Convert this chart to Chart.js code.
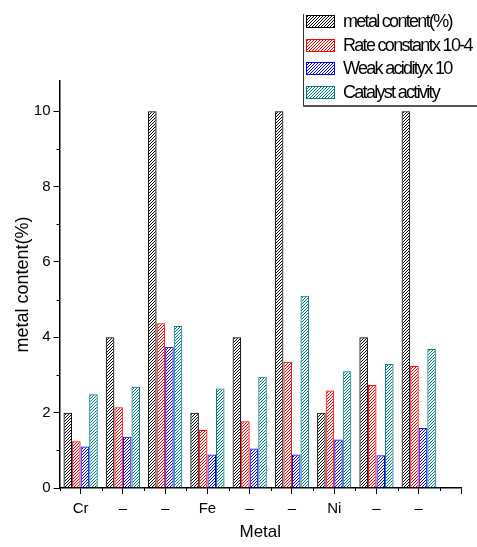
<!DOCTYPE html>
<html>
<head>
<meta charset="utf-8">
<script src="https://cdn.jsdelivr.net/npm/chart.js@4"></script>
<style>
  body{margin:0;background:#fff;}
  canvas{display:block;}
</style>
</head>
<body>
<canvas id="c" width="477" height="547"></canvas>
<script>
// Data
const metals=['Cr','–','–','Fe','–','–','Ni','–','–'];
const xPos=[1,2,3,4,5,6,7,8,9];
const metalContent=[2,4,10,2,4,10,2,4,10];
const rateConst=[1.24,2.14,4.37,1.54,1.77,3.35,2.59,2.73,3.24];
const weakAcid=[1.10,1.36,3.75,0.89,1.05,0.89,1.29,0.87,1.59];
const catActivity=[2.49,2.69,4.30,2.64,2.95,5.10,3.10,3.29,3.69];
const seriesNames=['metal content(%)','Rate constantx 10-4','Weak acidityx 10','Catalyst activity'];
const seriesColors=['#000000','#ff0000','#0000ff','#008080'];
const yTicks=[0,2,4,6,8,10];

// hatch pattern "////"
function hatch(color){
  const c=document.createElement('canvas'); c.width=3; c.height=3;
  const g=c.getContext('2d');
  g.strokeStyle=color; g.lineWidth=1;
  g.beginPath(); g.moveTo(0,3); g.lineTo(3,0); g.moveTo(-1,1); g.lineTo(1,-1); g.moveTo(2,4); g.lineTo(4,2); g.stroke();
  return g.createPattern(c,'repeat');
}

const allSeries=[metalContent,rateConst,weakAcid,catActivity];

// minor ticks
const minorTicks={
  id:'minorTicks',
  afterDraw(chart){
    const g=chart.ctx, x=chart.scales.x, y=chart.scales.y;
    g.save(); g.strokeStyle='#000'; g.lineWidth=1; g.beginPath();
    for(let v=1;v<10;v+=2){const py=Math.round(y.getPixelForValue(v))+0.5; g.moveTo(x.left,py); g.lineTo(x.left-3,py);}
    for(let v=0.5;v<10;v+=1){const px=Math.round(x.getPixelForValue(v))+0.5; g.moveTo(px,y.bottom); g.lineTo(px,y.bottom+3);}
    g.stroke(); g.restore();
  }
};

// legend box in the top right corner (cut off like the original)
const boxLegend={
  id:'boxLegend',
  afterDraw(chart){
    const g=chart.ctx, L=303, T=14, H=91;
    g.save();
    g.fillStyle='#333'; g.fillRect(L,T,1,H);
    g.fillStyle='#555'; g.fillRect(L,T+H,chart.width-L,2);
    g.font='18px "Liberation Sans"'; g.textBaseline='middle'; g.fillStyle='#000';
    if('letterSpacing' in g) g.letterSpacing='-1.7px';
    chart.data.datasets.forEach((ds,i)=>{
      const y=T+1+Math.round(i*23.5);
      g.fillStyle=ds.backgroundColor; g.fillRect(L+3,y,29,12);
      g.strokeStyle=ds.borderColor; g.lineWidth=1; g.strokeRect(L+3.5,y+0.5,28,12);
      g.fillStyle='#000'; g.fillText(ds.label,L+40,y+7);
    });
    g.restore();
  }
};

new Chart(document.getElementById('c'),{
  type:'bar',
  data:{
    datasets:allSeries.map((s,i)=>({
      label:seriesNames[i],
      data:s.map((v,k)=>({x:xPos[k],y:v})),
      backgroundColor:hatch(seriesColors[i]),
      borderColor:seriesColors[i],
      borderWidth:1,
      categoryPercentage:0.81,
      barPercentage:1
    }))
  },
  options:{
    responsive:false,animation:false,
    layout:{padding:{top:81,right:16,left:0,bottom:0}},
    plugins:{legend:{display:false},tooltip:{enabled:false}},
    scales:{
      x:{
        type:'linear',min:0.5,max:10,offset:false,
        afterBuildTicks:s=>{s.ticks=xPos.concat([10]).map(v=>({value:v}));},
        afterFit:s=>{s.height=59;},
        grid:{drawOnChartArea:false,offset:false,tickLength:6,tickColor:'#000'},
        border:{color:'#000',width:1.5},
        ticks:{callback:v=>metals[v-1]??'',color:'#000',padding:6,maxRotation:0,autoSkip:false,font:{family:'Liberation Sans',size:15}},
        title:{display:true,text:'Metal',color:'#000',padding:{top:8},font:{family:'Liberation Sans',size:17}}
      },
      y:{
        min:0,max:10.8,
        afterBuildTicks:s=>{s.ticks=yTicks.map(v=>({value:v}));},
        afterFit:s=>{s.width=59.5;},
        grid:{drawOnChartArea:false,tickLength:6,tickColor:'#000'},
        border:{color:'#000',width:1.5},
        ticks:{color:'#000',padding:3,font:{family:'Liberation Sans',size:15}},
        title:{display:true,text:'metal content(%)',color:'#000',padding:{top:12,bottom:4},font:{family:'Liberation Sans',size:18}}
      }
    }
  },
  plugins:[minorTicks,boxLegend]
});
</script>
</body>
</html>
